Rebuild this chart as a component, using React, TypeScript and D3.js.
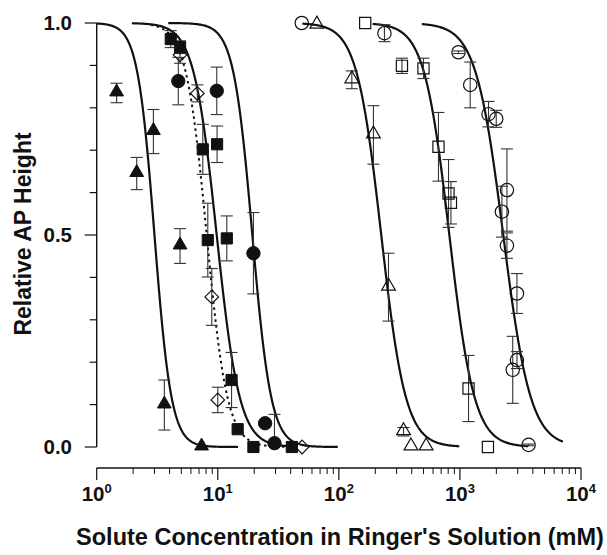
import { useEffect, useRef } from 'react';
import * as d3 from 'd3';

// filled triangles
const triFX = [1.46, 2.14, 2.94, 4.88, 3.62, 7.35];
const triFY = [0.835, 0.645, 0.744, 0.474, 0.099, 0.0];
const triFErr = [0.023, 0.038, 0.052, 0.041, 0.059, 0];

// filled squares
const sqFX = [4.09, 4.88, 7.52, 9.87, 8.27, 11.87, 13.0, 14.6, 19.7, 40.9];
const sqFY = [0.962, 0.943, 0.702, 0.714, 0.488, 0.492, 0.158, 0.042, 0.0, 0.0];
const sqFErr = [0.02, 0.015, 0.059, 0.043, 0.087, 0.053, 0.065, 0, 0, 0];

// open diamonds (dotted fit)
const diaX = [4.88, 6.78, 8.92, 10.0, 49.7];
const diaY = [0.925, 0.834, 0.354, 0.111, 0.0];
const diaErr = [0.02, 0.02, 0.067, 0.03, 0];

// filled circles
const cirFX = [4.72, 9.81, 19.7, 24.6, 29.4];
const cirFY = [0.863, 0.84, 0.457, 0.056, 0.009];
const cirFErr = [0.056, 0.056, 0.096, 0, 0.068];

// open triangles
const triOX = [65.8, 128, 193, 257, 342, 394, 526];
const triOY = [0.995, 0.866, 0.736, 0.377, 0.036, 0.0, 0.0];
const triOErr = [0, 0.021, 0.069, 0.08, 0.01, 0, 0];

// open squares
const sqOX = [165, 332, 500, 665, 805, 843, 1178, 1703];
const sqOY = [1.0, 0.899, 0.893, 0.708, 0.598, 0.576, 0.138, 0.0];
const sqOErr = [0, 0.018, 0.024, 0.081, 0.08, 0.05, 0.078, 0];

// open circles
const cirOX = [49.4, 238, 973, 1216, 1722, 1995, 2445, 2222, 2445, 2958, 2958, 2730, 3690];
const cirOY = [1.0, 0.976, 0.931, 0.854, 0.785, 0.774, 0.606, 0.555, 0.475, 0.362, 0.205, 0.182, 0.005];
const cirOErr = [0, 0.02, 0.003, 0.054, 0.03, 0.02, 0.097, 0.06, 0.03, 0.047, 0.02, 0.079, 0.002];

// fitted curves: y = 1 / (1 + (x / ic50)^n)
const fitIC50 = [3.0, 9.8, 8.1, 19.3, 224, 818, 2280];
const fitSlope = [6.2, 4.6, 5.1, 5.6, 4.3, 4.2, 3.85];
const fitFrom = [1, 1.95, 2.8, 3.9, 50, 190, 485];
const fitTo = [14.7, 45, 45, 98, 988, 3670, 7080];
const fitDashed = [false, false, true, false, false, false, false];

const xTicks = [1, 10, 100, 1000, 10000];
const xTickExp = ['0', '1', '2', '3', '4'];
const yTicks = [0, 0.5, 1.0];
const yTickLabels = ['0.0', '0.5', '1.0'];

const FONT = '"Liberation Sans", Arial, Helvetica, sans-serif';

export default function App() {
  const svgRef = useRef<SVGSVGElement | null>(null);

  useEffect(() => {
    document.body.style.margin = '0';
    if (!svgRef.current) return;
    const width = 607;
    const height = 555;
    const svg = d3.select(svgRef.current);
    svg.selectAll('*').remove();
    svg.attr('width', width).attr('height', height);

    const x = d3.scaleLog().domain([1, 10000]).range([96.7, 581]);
    const y = d3.scaleLinear().domain([0, 1]).range([447, 23]);
    const ink = '#111';

    // Y axis
    const yAxis = svg.append('g');
    yAxis.append('line')
      .attr('x1', x(1)).attr('x2', x(1))
      .attr('y1', y(1)).attr('y2', y(0))
      .attr('stroke', ink).attr('stroke-width', 1.4);
    d3.range(0, 11).forEach(i => {
      const v = i / 10;
      const major = i % 5 === 0;
      yAxis.append('line')
        .attr('x1', x(1) - (major ? 12 : 7)).attr('x2', x(1))
        .attr('y1', y(v)).attr('y2', y(v))
        .attr('stroke', ink).attr('stroke-width', 1.2);
    });
    yTicks.forEach((v, i) => {
      yAxis.append('text')
        .attr('x', 72).attr('y', y(v))
        .attr('dy', '0.36em')
        .attr('text-anchor', 'end')
        .attr('font-family', FONT).attr('font-weight', 'bold').attr('font-size', 20.5)
        .attr('fill', ink)
        .text(yTickLabels[i]);
    });

    // X axis
    const xAxisY = 468;
    const xAxis = svg.append('g');
    xAxis.append('line')
      .attr('x1', x(1)).attr('x2', x(10000))
      .attr('y1', xAxisY).attr('y2', xAxisY)
      .attr('stroke', ink).attr('stroke-width', 1.4);
    xTicks.forEach((t, i) => {
      xAxis.append('line')
        .attr('x1', x(t)).attr('x2', x(t))
        .attr('y1', xAxisY).attr('y2', xAxisY + 12)
        .attr('stroke', ink).attr('stroke-width', 1.2);
      if (i < xTicks.length - 1) {
        d3.range(2, 10).forEach(m => {
          xAxis.append('line')
            .attr('x1', x(t * m)).attr('x2', x(t * m))
            .attr('y1', xAxisY).attr('y2', xAxisY + 6)
            .attr('stroke', ink).attr('stroke-width', 1);
        });
      }
      const lbl = xAxis.append('text')
        .attr('x', x(t)).attr('y', 501)
        .attr('text-anchor', 'middle')
        .attr('font-family', FONT).attr('font-weight', 'bold').attr('font-size', 20.5)
        .attr('fill', ink);
      lbl.append('tspan').text('10');
      lbl.append('tspan').attr('dy', -8).attr('font-size', 13).text(xTickExp[i]);
    });

    // Axis titles
    svg.append('text')
      .attr('x', 340).attr('y', 545)
      .attr('text-anchor', 'middle')
      .attr('font-family', FONT).attr('font-weight', 'bold').attr('font-size', 23.5)
      .attr('fill', ink)
      .text("Solute Concentration in Ringer's Solution (mM)");
    svg.append('text')
      .attr('transform', `translate(31,234) rotate(-90)`)
      .attr('text-anchor', 'middle')
      .attr('font-family', FONT).attr('font-weight', 'bold').attr('font-size', 23)
      .attr('fill', ink)
      .text('Relative AP Height');

    // Fitted curves
    const line = d3.line<[number, number]>()
      .x(d => x(d[0]))
      .y(d => y(d[1]));
    fitIC50.forEach((ic, i) => {
      const lo = Math.log10(fitFrom[i]);
      const hi = Math.log10(fitTo[i]);
      const pts: [number, number][] = d3.range(0, 201).map(k => {
        const xv = Math.pow(10, lo + (hi - lo) * k / 200);
        return [xv, 1 / (1 + Math.pow(xv / ic, fitSlope[i]))];
      });
      svg.append('path')
        .datum(pts)
        .attr('fill', 'none')
        .attr('stroke', ink)
        .attr('stroke-width', fitDashed[i] ? 2 : 2.2)
        .attr('stroke-dasharray', fitDashed[i] ? '2.5,3.5' : null)
        .attr('d', line);
    });

    // Data series
    const series = [
      { xs: triFX, ys: triFY, err: triFErr, shape: 'triangle', filled: true },
      { xs: sqFX, ys: sqFY, err: sqFErr, shape: 'square', filled: true },
      { xs: diaX, ys: diaY, err: diaErr, shape: 'diamond', filled: false },
      { xs: cirFX, ys: cirFY, err: cirFErr, shape: 'circle', filled: true },
      { xs: triOX, ys: triOY, err: triOErr, shape: 'triangle', filled: false },
      { xs: sqOX, ys: sqOY, err: sqOErr, shape: 'square', filled: false },
      { xs: cirOX, ys: cirOY, err: cirOErr, shape: 'circle', filled: false },
    ];

    const markerPath = (shape: string) => {
      if (shape === 'triangle') return d3.symbol(d3.symbolTriangle, 82)();
      if (shape === 'square') return d3.symbol(d3.symbolSquare, 125)();
      if (shape === 'circle') return d3.symbol(d3.symbolCircle, 140)();
      return 'M0,-6.8L6.8,0L0,6.8L-6.8,0Z';
    };

    // Error bars
    const bars = svg.append('g').attr('stroke', '#333').attr('stroke-width', 1.1);
    series.forEach(s => {
      s.xs.forEach((xv, i) => {
        const e = s.err[i];
        if (!e) return;
        const cx = x(xv);
        const top = y(s.ys[i] + e);
        const lowV = s.ys[i] - e;
        const bot = y(Math.max(0, lowV));
        bars.append('line').attr('x1', cx).attr('x2', cx).attr('y1', top).attr('y2', bot);
        bars.append('line').attr('x1', cx - 6).attr('x2', cx + 6).attr('y1', top).attr('y2', top);
        if (lowV >= 0) {
          bars.append('line').attr('x1', cx - 6).attr('x2', cx + 6).attr('y1', bot).attr('y2', bot);
        }
      });
    });

    // Markers
    series.forEach(s => {
      const d = markerPath(s.shape);
      s.xs.forEach((xv, i) => {
        svg.append('path')
          .attr('d', d)
          .attr('transform', `translate(${x(xv)},${y(s.ys[i]) + (s.shape === 'triangle' ? -1 : 0)})`)
          .attr('fill', s.filled ? ink : 'none')
          .attr('stroke', ink)
          .attr('stroke-width', s.filled ? 1 : 1.2);
      });
    });
  }, []);

  return (
    <div>
      <svg ref={svgRef} style={{ display: 'block', background: '#fff' }}></svg>
    </div>
  );
}
